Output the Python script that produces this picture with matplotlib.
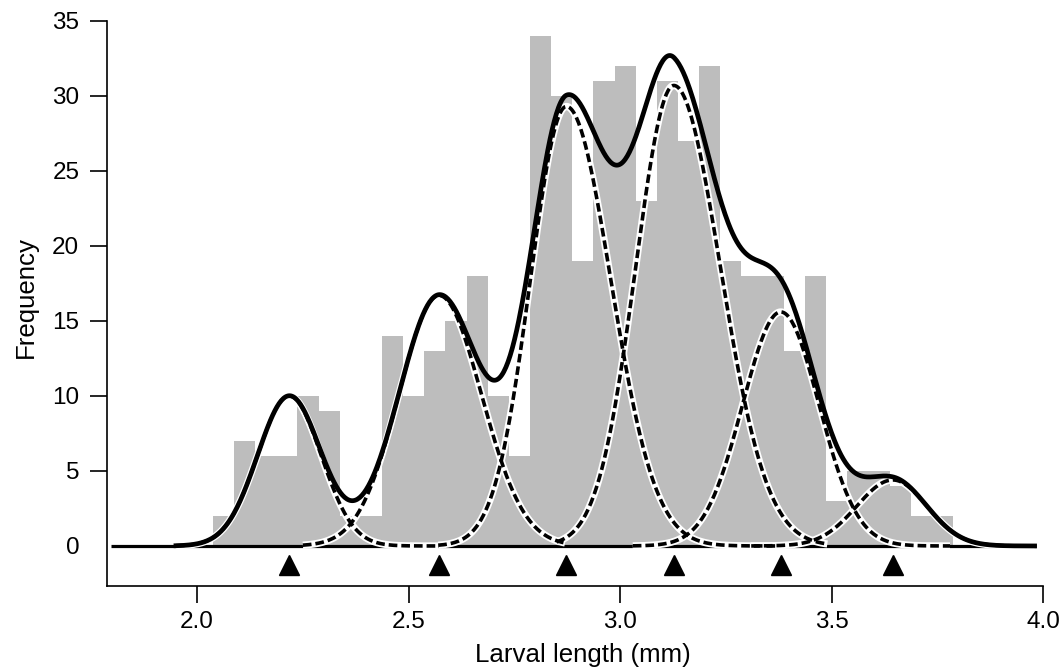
import numpy as np
import matplotlib.pyplot as plt

plt.rcParams['font.family'] = ['Liberation Sans', 'DejaVu Sans']

# histogram of larval lengths (0.05 mm bins)
bin_start = 2.037
bin_width = 0.05
counts = [2, 7, 6, 6, 10, 9, 2, 2, 14, 10, 13, 15, 18, 10, 6, 34, 30, 19,
          31, 32, 23, 31, 27, 32, 19, 18, 18, 13, 18, 3, 5, 5, 4, 2, 2]

# fitted cohorts (split normal: left / right spread)
comp_mean = [2.218, 2.572, 2.873, 3.127, 3.380, 3.645]
comp_height = [10.0, 16.7, 29.3, 30.7, 15.6, 4.4]
comp_sd_left = [0.075, 0.095, 0.085, 0.090, 0.090, 0.085]
comp_sd_right = [0.075, 0.100, 0.105, 0.110, 0.090, 0.080]
comp_from = [1.95, 2.25, 2.57, 2.85, 3.03, 3.31]
comp_to = [2.57, 2.87, 3.37, 3.49, 3.78, 3.98]
total_range = (1.95, 3.98)
baseline_range = (1.797, 3.983)


def cohort(x, mu, h, sl, sr):
    sd = np.where(x < mu, sl, sr)
    return h * np.exp(-0.5 * ((x - mu) / sd) ** 2)


fig = plt.figure(figsize=(10.64, 6.68), dpi=100)
ax = fig.add_axes([0.1006, 0.1228, 0.8797, 0.8458])

lefts = bin_start + bin_width * np.arange(len(counts))
ax.bar(lefts, counts, width=bin_width, align='edge', color='#bdbdbd',
       edgecolor='none', linewidth=0, zorder=1)

ax.plot(baseline_range, [0, 0], color='black', lw=2.3, zorder=2,
        solid_capstyle='butt')

for mu, h, sl, sr, a, b in zip(comp_mean, comp_height, comp_sd_left,
                               comp_sd_right, comp_from, comp_to):
    xs = np.linspace(a, b, 300)
    ys = cohort(xs, mu, h, sl, sr)
    ax.plot(xs, ys, color='white', lw=5.2, zorder=3, solid_capstyle='butt')
    ax.plot(xs, ys, color='black', lw=2.6, ls=(0, (2.4, 1.1)), zorder=4,
            dash_capstyle='butt')

xt = np.linspace(total_range[0], total_range[1], 800)
total = sum(cohort(xt, m, h, l, r) for m, h, l, r in
            zip(comp_mean, comp_height, comp_sd_left, comp_sd_right))
ax.plot(xt, total, color='black', lw=3.4, zorder=5)

# cohort means
ax.plot(comp_mean, [-1.27] * len(comp_mean), ls='none', marker='^',
        ms=15, color='black', zorder=6, clip_on=False)

ax.set_xlim(1.787, 4.0)
ax.set_ylim(-2.667, 35)
ax.spines['top'].set_visible(False)
ax.spines['right'].set_visible(False)
for s in ('left', 'bottom'):
    ax.spines[s].set_linewidth(1.2)
ax.set_xticks([2.0, 2.5, 3.0, 3.5, 4.0])
ax.set_xticklabels(['2.0', '2.5', '3.0', '3.5', '4.0'])
ax.set_yticks([0, 5, 10, 15, 20, 25, 30, 35])
ax.tick_params(axis='both', direction='out', length=12, width=1.2,
               labelsize=17.5)
ax.tick_params(axis='y', pad=8)
ax.tick_params(axis='x', pad=6)
ax.yaxis.get_major_ticks()[0].tick1line.set_visible(False)

fig.text(0.548, 0.009, 'Larval length (mm)', ha='center', va='baseline',
         fontsize=18.6)
fig.text(0.0244, 0.5554, 'Frequency', rotation=90, ha='center',
         va='center', fontsize=18.6)

fig.savefig('out.png', dpi=100)
